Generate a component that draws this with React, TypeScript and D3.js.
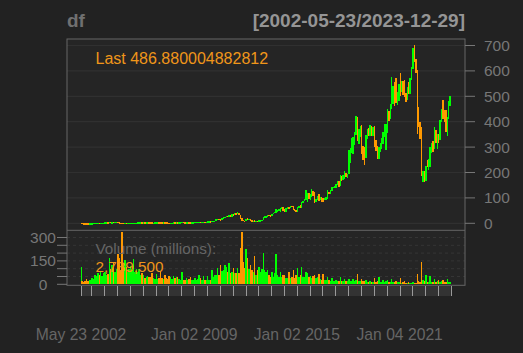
import * as d3 from "d3";

// NFLX daily bars summarised by month (May 2002 .. Dec 2023), split adjusted
const firstDay = "2002-05-23";
const lastDay = "2023-12-29";
const ipoOpen = 1.07;
const lastClose = "486.880004882812";
const lastVolume = "2,739,500";

const closes = [
  1.14, 0.99, 0.82, 0.77, 0.69, 0.45, 0.66, 0.79, // 2002
  0.81, 1.29, 1.42, 1.65, 1.95, 1.82, 2.3, 2.4, 2.47, 3.5, 4.05, 3.9,
  4.9, 4.45, 4.87, 4.76, 5.0, 5.14, 3.33, 2.77, 2.2, 1.7, 1.63, 1.76,
  1.52, 1.55, 1.59, 1.93, 2.02, 2.34, 2.78, 2.97, 3.71, 3.86, 3.88, 3.87,
  4.06, 4.04, 4.14, 4.87, 4.2, 3.89, 2.97, 2.98, 3.25, 3.92, 4.04, 3.69,
  3.27, 3.26, 3.31, 3.24, 3.13, 2.77, 2.48, 2.66, 2.96, 3.88, 3.27, 3.8,
  3.61, 4.27, 4.95, 5.11, 4.55, 3.72, 4.4, 4.5, 4.41, 2.82, 3.1, 4.27,
  5.16, 5.51, 6.13, 6.47, 5.58, 5.91, 6.32, 6.05, 6.6, 7.91, 8.45, 7.88,
  9.04, 9.91, 10.53, 14.08, 16.46, 15.52, 14.64, 18.76, 23.17, 24.73, 29.73, 25.1,
  30.28, 29.61, 33.88, 33.19, 38.87, 37.53, 38.18, 33.73, 16.19, 13.43, 9.92, 9.9,
  17.36, 15.68, 16.43, 11.43, 9.14, 9.78, 8.1, 8.71, 7.78, 11.33, 11.58, 13.23,
  23.61, 26.64, 27.03, 30.99, 30.91, 30.16, 34.94, 40.5, 44.17, 46.26, 52.22, 52.6,
  58.46, 63.61, 50.29, 46.01, 59.02, 62.94, 60.41, 68.37, 64.45, 56.2, 49.72, 48.8,
  63.11, 67.84, 59.53, 79.49, 89.15, 93.84, 114.31, 115.03, 103.26, 108.38, 123.84, 114.38,
  91.84, 93.41, 102.23, 90.03, 102.57, 91.48, 91.25, 97.45, 98.55, 124.87, 117.0, 123.8,
  140.71, 142.13, 147.81, 152.2, 163.07, 149.41, 181.66, 174.71, 181.35, 196.43, 187.58, 191.96,
  270.3, 291.38, 295.35, 312.46, 351.6, 391.43, 337.45, 367.68, 374.13, 301.78, 286.13, 267.66,
  339.5, 358.1, 356.56, 370.54, 343.28, 367.32, 322.99, 293.75, 267.62, 287.41, 314.66, 323.57,
  345.09, 369.03, 375.5, 419.85, 419.73, 455.04, 488.88, 529.56, 500.03, 475.74, 490.7, 540.73,
  532.39, 538.85, 521.66, 513.47, 502.81, 528.21, 517.57, 569.19, 610.34, 690.31, 641.9, 602.44,
  427.14, 394.52, 374.59, 190.36, 197.44, 174.87, 224.9, 223.56, 235.44, 291.88, 305.53, 294.88,
  353.86, 322.13, 345.48, 329.93, 395.23, 440.49, 438.97, 433.68, 377.6, 411.69, 473.97, 486.88,
];

const highs = [
  1.24, 1.2, 1.0, 0.85, 0.8, 0.7, 0.7, 0.85,
  0.95, 1.35, 1.55, 1.75, 2.05, 2.1, 2.4, 2.6, 2.7, 3.65, 4.2, 4.3,
  5.5, 5.2, 5.1, 5.5, 5.3, 5.5, 5.3, 3.4, 2.9, 2.4, 1.9, 1.85,
  1.8, 1.7, 1.75, 2.1, 2.2, 2.45, 2.9, 3.1, 3.9, 4.1, 4.1, 4.05,
  4.4, 4.2, 4.3, 5.1, 5.0, 4.4, 3.9, 3.1, 3.4, 4.2, 4.2, 4.1,
  3.8, 3.4, 3.45, 3.5, 3.3, 3.15, 2.85, 2.75, 3.05, 4.0, 4.0, 3.9,
  3.9, 4.35, 5.1, 5.7, 5.5, 4.6, 4.55, 4.9, 5.1, 4.5, 3.4, 4.4,
  5.4, 5.7, 6.3, 7.0, 6.6, 6.1, 6.7, 6.6, 6.8, 8.4, 8.6, 8.5,
  9.7, 10.2, 10.9, 15.2, 17.1, 17.8, 16.2, 19.3, 23.5, 25.2, 30.0, 30.5,
  32.0, 32.6, 35.0, 36.6, 39.4, 39.0, 43.0, 40.3, 34.2, 19.1, 13.8, 10.6,
  17.6, 18.9, 17.0, 16.6, 11.5, 10.2, 12.5, 9.1, 9.4, 11.6, 12.1, 13.9,
  24.7, 27.4, 28.4, 31.8, 33.3, 31.8, 38.0, 41.2, 44.7, 55.1, 53.3, 56.3,
  59.0, 65.2, 65.4, 54.8, 59.5, 64.4, 65.0, 68.9, 69.9, 68.5, 57.6, 53.7,
  64.5, 69.7, 70.4, 82.4, 89.6, 97.1, 129.3, 118.0, 118.5, 115.8, 133.3, 126.1,
  122.3, 97.2, 107.3, 113.9, 103.1, 103.0, 100.0, 99.9, 101.6, 129.3, 125.0, 129.3,
  143.0, 144.8, 148.5, 155.0, 166.8, 166.9, 191.5, 185.4, 189.0, 204.4, 199.0, 193.5,
  286.8, 296.3, 333.98, 338.8, 359.0, 423.2, 419.8, 372.6, 383.2, 386.8, 304.6, 298.7,
  346.9, 371.5, 377.0, 385.99, 381.85, 378.5, 385.0, 329.9, 304.0, 298.5, 315.5, 336.4,
  359.9, 389.6, 392.9, 449.5, 440.2, 468.0, 575.4, 541.7, 557.4, 572.5, 515.0, 548.5,
  593.3, 561.3, 560.3, 563.6, 513.0, 536.1, 557.0, 571.9, 615.6, 690.97, 700.99, 646.8,
  605.4, 458.5, 397.4, 380.3, 204.0, 204.0, 226.7, 249.9, 251.6, 300.9, 315.8, 323.0,
  379.4, 366.8, 350.0, 349.8, 405.3, 448.6, 485.0, 445.3, 444.4, 418.8, 481.7, 500.9,
];

const lows = [
  0.96, 0.9, 0.7, 0.62, 0.6, 0.35, 0.42, 0.6,
  0.7, 0.78, 1.2, 1.35, 1.6, 1.7, 1.75, 2.15, 2.2, 2.4, 3.3, 3.5,
  3.8, 3.9, 4.1, 4.2, 4.4, 4.6, 2.8, 2.5, 2.1, 1.35, 1.45, 1.55,
  1.45, 1.45, 1.5, 1.5, 1.85, 2.0, 2.3, 2.7, 2.9, 3.3, 3.6, 3.7,
  3.8, 3.8, 3.8, 4.05, 4.1, 3.7, 2.7, 2.65, 2.9, 3.2, 3.7, 3.6,
  3.1, 3.05, 3.1, 3.0, 3.0, 2.7, 2.3, 2.2, 2.55, 2.95, 3.2, 3.2,
  2.6, 3.4, 4.1, 4.5, 4.4, 3.6, 3.5, 4.0, 3.7, 2.5, 2.6, 3.0,
  4.1, 4.7, 5.0, 5.8, 5.4, 5.2, 5.6, 5.7, 5.9, 6.3, 7.5, 7.6,
  7.5, 8.8, 9.2, 10.3, 13.2, 14.7, 13.9, 14.5, 18.4, 20.3, 24.2, 24.1,
  24.5, 27.4, 24.9, 30.0, 32.8, 34.3, 36.0, 31.2, 16.0, 10.6, 8.8, 8.7,
  10.0, 14.8, 14.4, 11.0, 8.9, 8.5, 7.7, 7.6, 7.5, 7.7, 10.5, 11.5,
  13.1, 21.7, 24.4, 23.2, 29.2, 29.1, 30.2, 34.8, 39.6, 41.6, 45.2, 50.2,
  46.3, 54.8, 48.4, 43.3, 45.6, 56.3, 58.2, 60.6, 63.6, 53.0, 48.7, 45.1,
  45.9, 60.6, 58.6, 58.5, 78.9, 87.7, 93.5, 85.5, 95.0, 93.0, 105.2, 106.2,
  79.9, 84.5, 93.2, 88.8, 90.1, 84.5, 84.5, 90.2, 93.4, 96.3, 113.5, 114.4,
  127.0, 139.6, 138.3, 140.2, 150.8, 144.2, 146.5, 166.5, 169.5, 176.0, 182.2, 179.7,
  195.4, 236.1, 275.9, 271.2, 310.0, 348.6, 325.5, 310.9, 339.1, 271.2, 250.0, 231.2,
  256.1, 333.4, 344.5, 342.7, 342.1, 342.1, 302.2, 286.5, 252.3, 254.6, 282.1, 293.0,
  313.2, 340.1, 290.3, 357.1, 402.0, 409.4, 448.5, 471.1, 463.4, 474.0, 465.5, 482.5,
  500.0, 518.7, 505.9, 496.6, 478.5, 485.6, 510.7, 507.8, 562.8, 607.2, 634.0, 591.8,
  351.5, 380.0, 331.7, 188.0, 162.7, 162.7, 167.4, 221.6, 211.7, 221.0, 276.5, 282.6,
  291.0, 315.6, 292.8, 317.0, 327.2, 397.0, 411.9, 398.2, 361.2, 344.7, 409.8, 461.9,
];

// peak daily volume within the month, millions of shares
const volumes = [
  113, 18, 17, 20, 34, 22, 28, 30,
  43, 35, 60, 55, 75, 60, 80, 55, 70, 81, 60, 65,
  171, 100, 124, 145, 80, 100, 192, 167, 90, 338, 120, 156,
  113, 80, 100, 120, 90, 160, 80, 100, 81, 100, 60, 70,
  60, 40, 45, 55, 50, 45, 70, 40, 35, 64, 35, 40,
  77, 40, 35, 60, 40, 35, 55, 45, 35, 55, 40, 49,
  45, 35, 30, 81, 30, 28, 38, 30, 35, 45, 30, 28,
  43, 30, 35, 60, 40, 30, 55, 30, 25, 55, 30, 28,
  92, 45, 60, 60, 102, 60, 124, 85, 90, 124, 109, 80,
  135, 75, 80, 107, 70, 75, 107, 75, 231, 333, 145, 102,
  226, 167, 100, 124, 90, 80, 182, 60, 90, 113, 80, 100,
  201, 90, 81, 92, 60, 49, 80, 49, 70, 194, 60, 49,
  81, 50, 60, 60, 40, 38, 81, 40, 50, 92, 40, 60,
  102, 50, 60, 109, 50, 45, 81, 70, 45, 55, 40, 51,
  58, 40, 45, 64, 35, 30, 64, 30, 28, 47, 26, 24,
  40, 20, 18, 30, 20, 22, 47, 20, 18, 32, 18, 20,
  32, 20, 18, 32, 18, 30, 64, 20, 18, 36, 22, 20,
  26, 15, 14, 20, 12, 12, 41, 15, 20, 47, 12, 14,
  26, 14, 22, 26, 14, 14, 32, 14, 16, 18, 12, 14,
  41, 10, 12, 23, 10, 9, 14, 9, 10, 14, 10, 11,
  64, 20, 15, 143, 30, 20, 58, 14, 15, 51, 15, 14,
  32, 15, 18, 26, 17, 18, 26, 14, 15, 32, 12, 15,
];

const priceTicks = [0, 100, 200, 300, 400, 500, 600, 700];
const volTicks = [0, 50, 100, 150, 200, 250, 300];
const volLabels = [0, 150, 300];
const dateTicks = [
  "2002-05-23", "2003-01-02", "2003-10-01", "2004-07-01", "2005-04-01", "2006-01-03",
  "2006-10-02", "2007-07-02", "2008-04-01", "2009-01-02", "2009-10-01", "2010-07-01",
  "2011-04-01", "2012-01-03", "2012-10-01", "2013-07-01", "2014-04-01", "2015-01-02",
  "2015-10-01", "2016-07-01", "2017-04-03", "2018-01-02", "2018-10-01", "2019-07-01",
  "2020-04-01", "2021-01-04", "2021-10-01", "2022-07-01", "2023-04-03", "2023-12-29",
];
const dateLabels = ["2002-05-23", "2009-01-02", "2015-01-02", "2021-01-04"];

const UP = "#00ff00";
const DN = "#ff9900";
const FONT = "'Liberation Sans', Arial, Helvetica, sans-serif";

const parse = d3.utcParse("%Y-%m-%d");
const fmtLabel = d3.utcFormat("%b %d %Y");

export default function App() {
  const W = 523;
  const H = 353;
  const left = 67;
  const right = 465;
  const top = 39;
  const split = 230.3;
  const bottom = 285.3;

  const start = parse(firstDay)!;
  const end = parse(lastDay)!;
  const x = d3.scaleUtc().domain([start, end]).range([81, 450.7]);
  const y = d3.scaleLinear().domain([0, 700]).range([223.3, 45.5]);
  const yv = d3.scaleLinear().domain([0, 300]).range([284.3, 237.5]);

  const monthStart = d3.utcMonth.floor(start);
  const bars = closes.map((c, i) => {
    const m0 = d3.utcMonth.offset(monthStart, i);
    const m1 = d3.utcMonth.offset(monthStart, i + 1);
    const s = m0 < start ? start : m0;
    const e = m1 > end ? end : m1;
    const open = i === 0 ? ipoOpen : closes[i - 1];
    const x0 = x(s);
    const w = Math.max(x(e) - x0, 1.2);
    return { x0, w, open, close: c, high: highs[i], low: lows[i], vol: volumes[i], up: c >= open };
  });

  return (
    <svg
      width={W}
      height={H}
      style={{ position: "absolute", left: 0, top: 0, display: "block" }}
      fontFamily={FONT}
    >
      <rect width={W} height={H} fill="#222222" />
      <rect x={left} y={top} width={right - left} height={bottom - top} fill="#252525" />

      {/* price grid */}
      {priceTicks.map((t) => (
        <line key={"g" + t} x1={left} x2={right} y1={y(t)} y2={y(t)} stroke="#303030" strokeWidth={1.2} />
      ))}
      {/* volume grid */}
      {volTicks.slice(1).map((t) => (
        <line key={"vg" + t} x1={left} x2={right} y1={yv(t)} y2={yv(t)} stroke="#353535" strokeDasharray="3,3" />
      ))}

      {/* price bars: monthly high-low range, coloured by direction */}
      <g shapeRendering="crispEdges">
        {bars.map((b, i) => {
          const yTop = y(b.high);
          const h = Math.max(y(b.low) - yTop, 1.5);
          return <rect key={"p" + i} x={b.x0} y={yTop} width={b.w} height={h} fill={b.up ? UP : DN} />;
        })}
      </g>

      {/* volume bars */}
      <g shapeRendering="crispEdges">
        {bars.map((b, i) => (
          <rect
            key={"v" + i}
            x={b.x0}
            y={yv(b.vol)}
            width={b.w}
            height={yv(0) - yv(b.vol)}
            fill={b.up ? UP : DN}
          />
        ))}
      </g>

      {/* frame */}
      <rect x={left} y={top} width={right - left} height={bottom - top} fill="none" stroke="#666666" />
      <line x1={left} x2={right} y1={split} y2={split} stroke="#666666" />

      {/* right price axis */}
      {priceTicks.map((t) => (
        <g key={"pt" + t}>
          <line x1={right} x2={475} y1={y(t)} y2={y(t)} stroke="#777777" />
          <text x={484} y={y(t)} dy="0.36em" fontSize={15.5} fill="#777777">
            {t}
          </text>
        </g>
      ))}

      {/* left volume axis */}
      {volTicks.map((t) => (
        <line key={"vt" + t} x1={57} x2={left} y1={yv(t)} y2={yv(t)} stroke="#777777" />
      ))}
      {volLabels.map((t) => (
        <text key={"vl" + t} x={43} y={yv(t)} dy="0.36em" textAnchor="middle" fontSize={15.5} fill="#777777">
          {t}
        </text>
      ))}

      {/* x axis strip */}
      <rect x={x(start)} y={286} width={x(end) - x(start)} height={10} fill="#333333" />
      {dateTicks.map((d) => {
        const xx = Math.round(x(parse(d)!)) + 0.5;
        return <line key={"dt" + d} x1={xx} x2={xx} y1={286} y2={296} stroke="#9a9a9a" />;
      })}
      {dateLabels.map((d) => (
        <text key={"dl" + d} x={x(parse(d)!)} y={340} textAnchor="middle" fontSize={15.7} fill="#666666">
          {fmtLabel(parse(d)!)}
        </text>
      ))}

      {/* titles and notes */}
      <text x={left} y={27} fontSize={19} fontWeight="bold" fill="#707070">
        df
      </text>
      <text x={right} y={27} textAnchor="end" fontSize={19} fontWeight="bold" fill="#959595">
        [{firstDay}/{lastDay}]
      </text>
      <text x={95.5} y={64} fontSize={16} fill="#f0961a">
        Last {lastClose}
      </text>
      <text x={95.5} y={254} fontSize={15.3} fill="#666666">
        Volume (millions):
      </text>
      <text x={95.5} y={272} fontSize={15.3} fill="#f0961a">
        {lastVolume}
      </text>
    </svg>
  );
}
